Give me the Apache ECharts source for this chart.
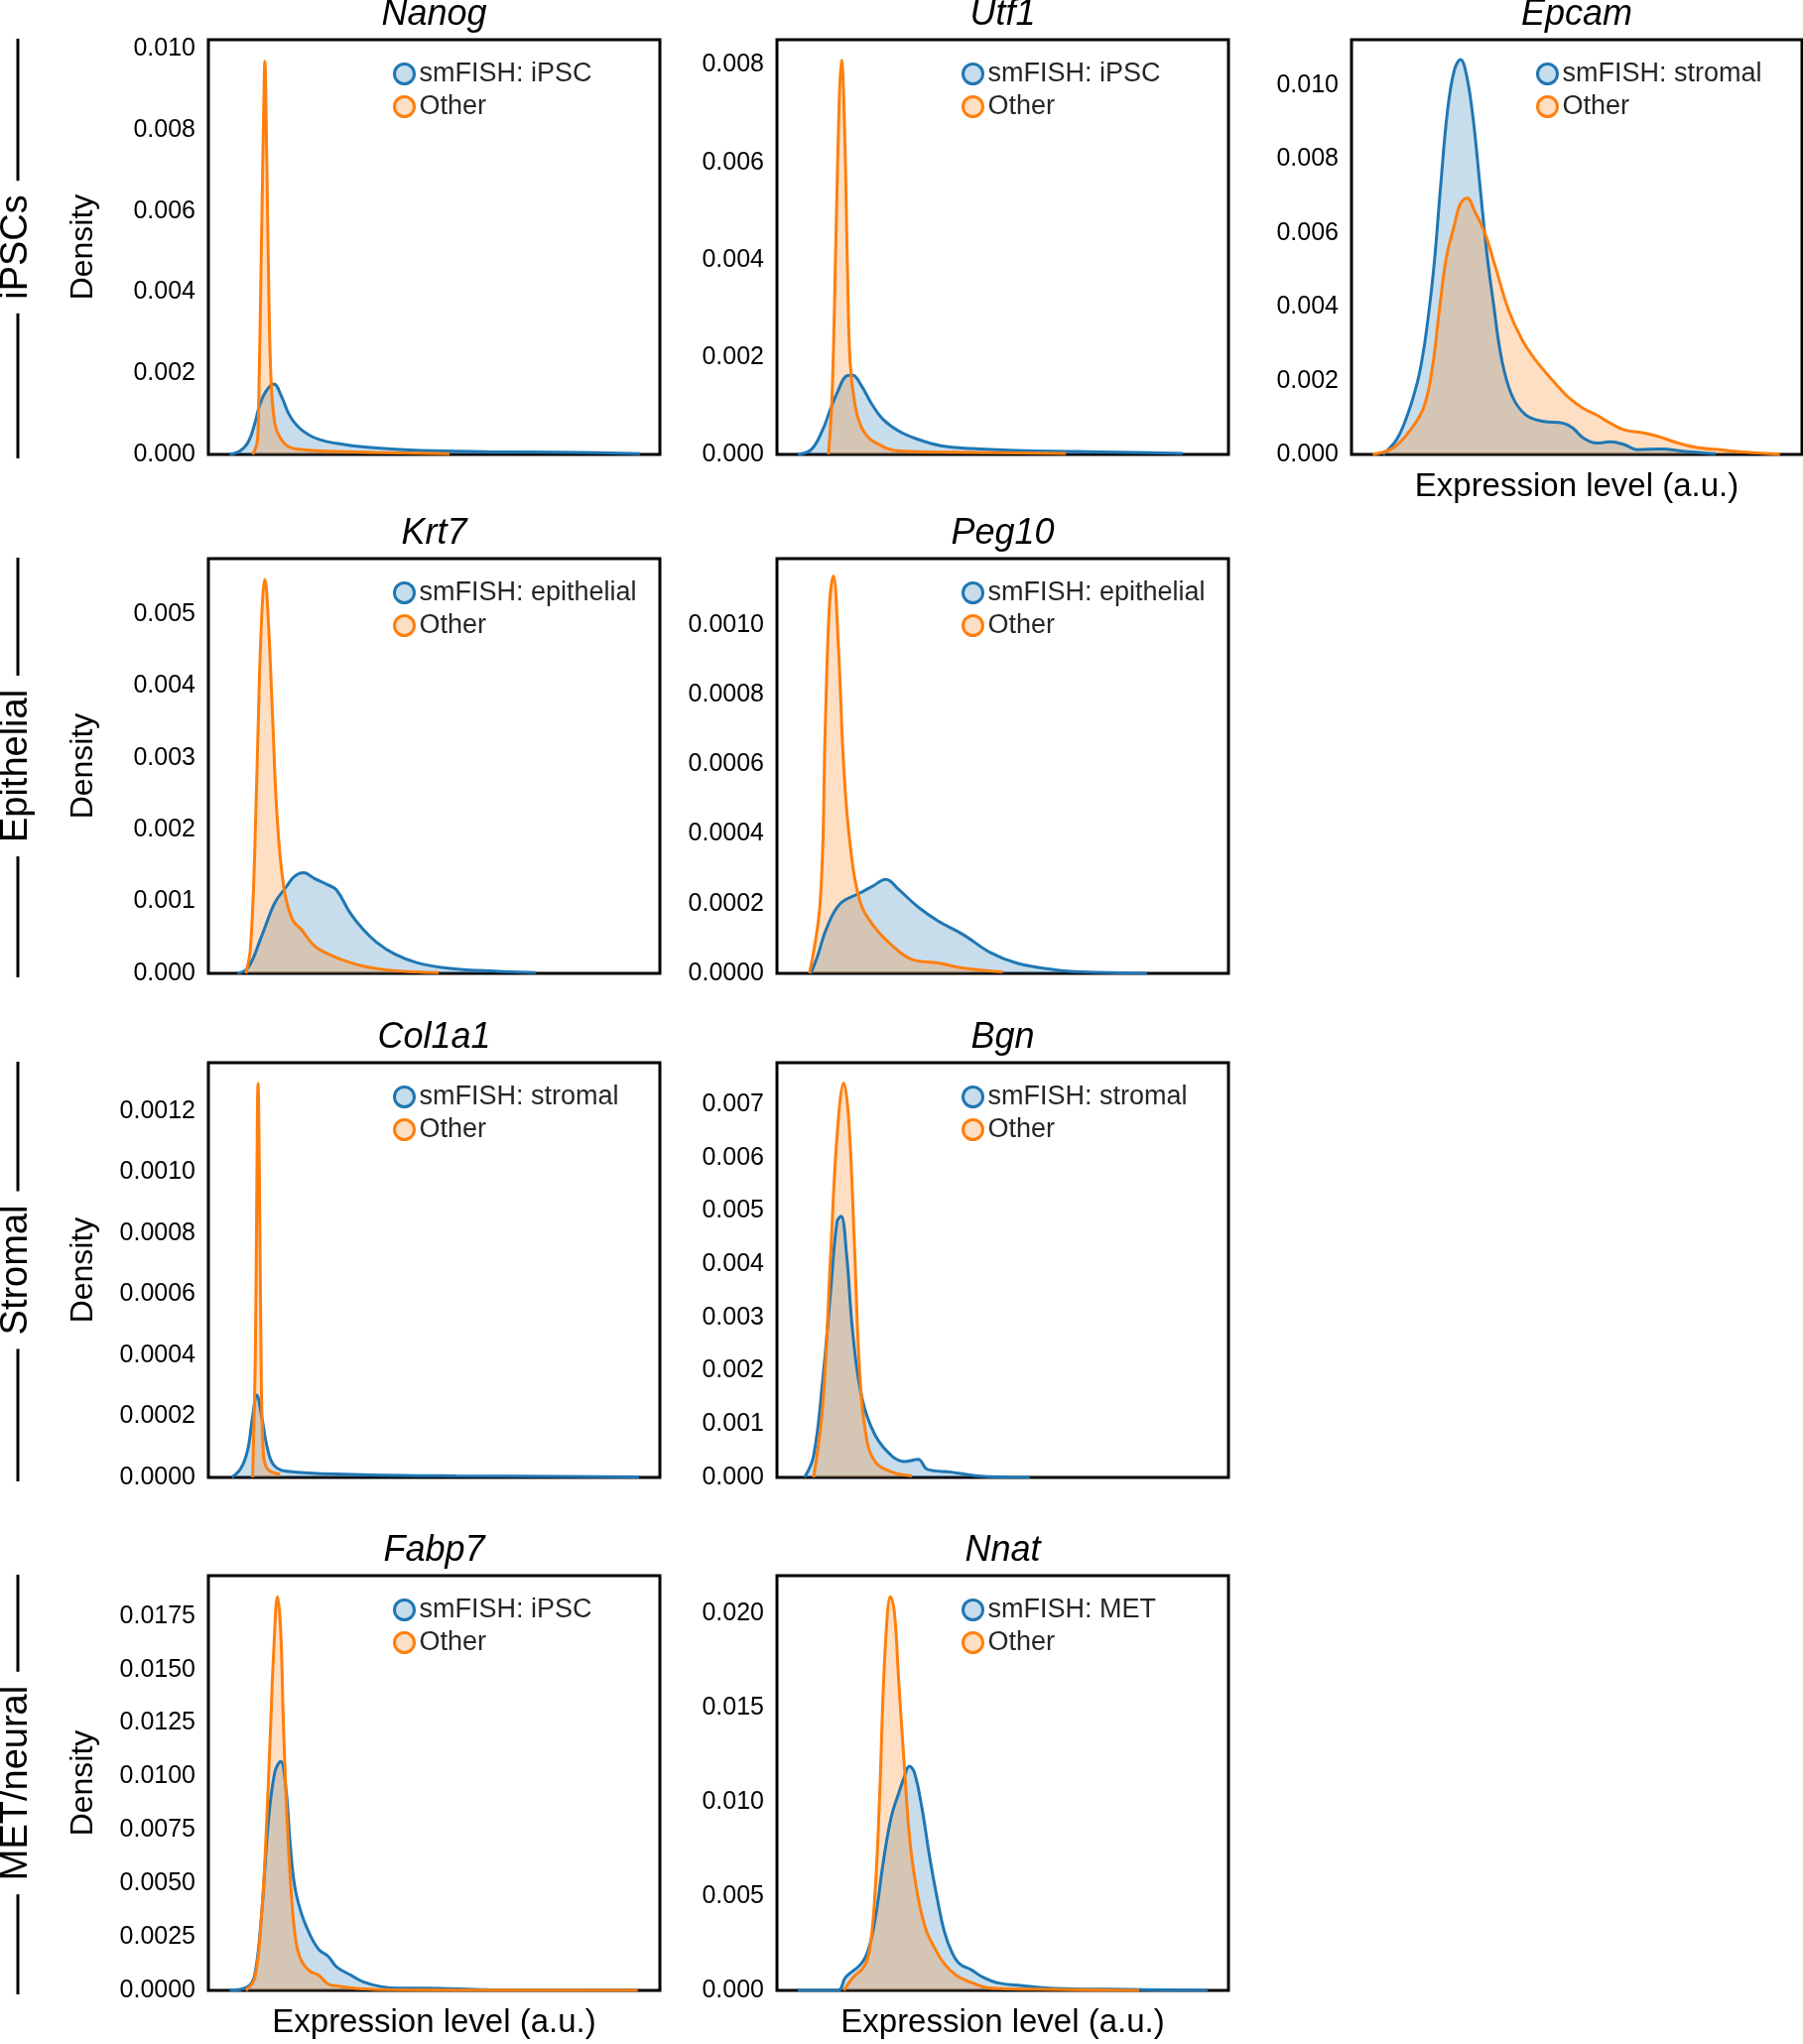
<!DOCTYPE html>
<html lang="en">
<head>
<meta charset="UTF-8">
<title>smFISH marker density</title>
<script src="https://cdn.jsdelivr.net/npm/echarts@6/dist/echarts.min.js"></script>
<style>
  html, body { margin: 0; padding: 0; background: #fff; }
  #chart { width: 1817px; height: 2060px; }
</style>
</head>
<body>
<div id="chart"></div>
<script>
  // panel meta
  var genes = ['Nanog', 'Utf1', 'Epcam', 'Krt7', 'Peg10', 'Col1a1', 'Bgn', 'Fabp7', 'Nnat'];
  var fishLabels = ['smFISH: iPSC', 'smFISH: iPSC', 'smFISH: stromal', 'smFISH: epithelial', 'smFISH: epithelial',
    'smFISH: stromal', 'smFISH: stromal', 'smFISH: iPSC', 'smFISH: MET'];
  var groups = ['iPSCs', 'Epithelial', 'Stromal', 'MET/neural'];
  var yMax = [0.01023, 0.00852, 0.01124, 0.00577, 0.00119, 0.001358, 0.00778, 0.01939, 0.02202];
  var yStep = [0.002, 0.002, 0.002, 0.001, 0.0002, 0.0002, 0.001, 0.0025, 0.005];
  var yDecimals = [3, 3, 3, 3, 4, 4, 3, 4, 3];

  // density curves, [expression (0-100 of axis), density]
  var nanogFish = [[4.7, 0], [6.9, 0.00008], [8.8, 0.0003], [10.3, 0.00077], [11.3, 0.0012], [12.7, 0.00155],
    [14.5, 0.00174], [16.2, 0.00143], [18.1, 0.00094], [20.6, 0.00061], [24.5, 0.00037], [30.4, 0.00024],
    [37.3, 0.00016], [47, 0.0001], [61.8, 0.00007], [81.4, 0.00005], [95.6, 0.00002]];
  var nanogOther = [[9.8, 0], [10.8, 0.0003], [11.1, 0.001], [11.8, 0.0055], [12.3, 0.0088], [12.5, 0.0097],
    [12.9, 0.0075], [13.4, 0.0039], [13.9, 0.0018], [14.7, 0.00077], [15.7, 0.00045], [17.6, 0.0002],
    [20.6, 0.00012], [26.5, 0.00008], [37, 0.00005], [53.4, 0.00002]];

  var utf1Fish = [[4.6, 0], [7.6, 0.0001], [10.1, 0.0005], [11.8, 0.00092], [13.5, 0.0013], [15.2, 0.0016],
    [16.7, 0.00163], [18.6, 0.00143], [21.1, 0.00102], [23.6, 0.00071], [27, 0.00048], [31.2, 0.00031],
    [36.3, 0.00018], [43, 0.00012], [53.2, 0.00008], [65.8, 0.00006], [78.5, 0.00004], [89.9, 0.00002]];
  var utf1Other = [[11.4, 0], [12.2, 0.0012], [13.1, 0.0046], [13.8, 0.0073], [14.3, 0.0081], [15.0, 0.0066],
    [15.6, 0.0039], [16.2, 0.0019], [17.3, 0.001], [18.6, 0.00058], [20.3, 0.00034], [21.9, 0.00024],
    [24.5, 0.00012], [27, 0.00007], [35.4, 0.00005], [64, 0.00002]];

  var epcamFish = [[7.0, 0], [10.0, 0.0004], [12.3, 0.00103], [14.5, 0.0019], [15.7, 0.0026], [16.8, 0.0035],
    [18.3, 0.0051], [19.8, 0.0073], [21.3, 0.0093], [22.8, 0.0104], [24.2, 0.0107], [25.5, 0.0103],
    [27.0, 0.0091], [28.5, 0.0073], [30.0, 0.0055], [31.5, 0.0041], [33.3, 0.0026], [35.6, 0.0016],
    [38.6, 0.00108], [42.4, 0.0009], [46.9, 0.00085], [49.1, 0.00072], [51.4, 0.00045], [54.5, 0.00031],
    [57.4, 0.00034], [60.5, 0.00027], [63.4, 0.00013], [68.8, 0.00015], [74, 0.00008], [80.8, 0.00002]];
  var epcamOther = [[4.7, 0], [9.3, 0.00018], [13.1, 0.00067], [16.1, 0.0013], [18, 0.0024], [19.4, 0.0038],
    [21, 0.0053], [22.8, 0.0062], [24.2, 0.0068], [25.7, 0.00695], [27.3, 0.0066], [29.6, 0.006],
    [31.9, 0.0051], [34.9, 0.0039], [37.9, 0.0031], [40.9, 0.00255], [44.7, 0.002], [48.4, 0.00152],
    [51.4, 0.00125], [54.4, 0.00107], [57.4, 0.00085], [60.5, 0.00067], [65, 0.00058], [68, 0.00049],
    [72.5, 0.00031], [77, 0.00018], [82.3, 0.00012], [87.6, 0.00006], [95.1, 0.00001]];

  var krt7Fish = [[6.4, 0], [8.8, 0.00008], [11.8, 0.00052], [14.7, 0.00098], [17.2, 0.0012], [19.1, 0.00135],
    [21.1, 0.0014], [23.5, 0.00132], [26.5, 0.00123], [28.4, 0.00116], [31.4, 0.00084], [34.3, 0.00061],
    [37.3, 0.00043], [41.2, 0.00027], [46.1, 0.00015], [52, 0.00008], [59.8, 0.00004], [72.5, 0.00001]];
  var krt7Other = [[8.3, 0], [9.3, 0.00034], [10.3, 0.00176], [11.3, 0.0041], [12.0, 0.0052], [12.5, 0.00548],
    [13.2, 0.005], [14.2, 0.0036], [15.2, 0.0022], [16.7, 0.0012], [18.6, 0.00075], [20.6, 0.00061],
    [23.5, 0.00038], [26.5, 0.00027], [30.4, 0.00017], [34.3, 0.0001], [39.2, 0.00005], [46.1, 0.00002],
    [51, 0.00001]];

  var peg10Fish = [[7.5, 0], [9, 0.00005], [11, 0.00013], [14, 0.0002], [18.3, 0.00023], [21.2, 0.00025],
    [24.1, 0.00027], [27, 0.00024], [31.3, 0.00019], [35.7, 0.00015], [41.4, 0.00011], [47.2, 0.00006],
    [53, 0.00003], [61.7, 0.00001], [67.5, 0.000004], [82, 0]];
  var peg10Other = [[7.2, 0], [9.6, 0.00021], [10.7, 0.00071], [11.6, 0.00105], [12.5, 0.00114], [13.6, 0.00094],
    [14.8, 0.00059], [16.2, 0.00037], [18.3, 0.00021], [21.2, 0.00014], [25.5, 0.00008], [29.9, 0.00004],
    [35.7, 0.00003], [41.4, 0.000015], [50, 0.000004]];

  var col1a1Fish = [[5.2, 0], [7.2, 0.00003], [8.7, 0.00009], [9.8, 0.0002], [10.7, 0.00027], [11.8, 0.0002],
    [13, 0.0001], [14.5, 0.00004], [17.3, 0.00002], [31.8, 0.00001], [55, 0.000005], [95.4, 0.000002]];
  var col1a1Other = [[9.8, 0], [10.4, 0.0004], [10.7, 0.0009], [11.0, 0.00129], [11.3, 0.001], [11.6, 0.0005],
    [12.1, 0.0001], [13, 0.00003], [15.9, 0.00001]];

  var bgnFish = [[6.1, 0], [8.1, 0.0004], [10.1, 0.0018], [11.9, 0.0035], [13.3, 0.0048], [14.2, 0.0049],
    [15.4, 0.0042], [16.8, 0.0027], [18.8, 0.0015], [21.7, 0.0008], [25.5, 0.0004], [28.4, 0.0003],
    [31.3, 0.00034], [33.3, 0.00015], [38.6, 0.0001], [44.3, 0.00003], [56, 0]];
  var bgnOther = [[8.1, 0], [10.1, 0.0013], [11.9, 0.0042], [13.3, 0.0064], [14.8, 0.0074], [15.9, 0.0067],
    [17.1, 0.0045], [18.3, 0.002], [19.7, 0.0008], [21.7, 0.0003], [25.5, 0.0001], [29.9, 0.00003]];

  var fabp7Fish = [[4.7, 0], [8.8, 0.00018], [10.3, 0.00076], [11.8, 0.0036], [13.2, 0.0077], [14.7, 0.0102],
    [16, 0.0107], [17.2, 0.0094], [18.1, 0.0069], [19.1, 0.0049], [20.6, 0.0036], [22.5, 0.0026],
    [24.5, 0.0019], [26.5, 0.0016], [28.4, 0.0011], [31.4, 0.00073], [34.3, 0.0004], [38.2, 0.00018],
    [42.2, 0.0001], [48, 0.0001], [61.8, 0.00003], [95.1, 0]];
  var fabp7Other = [[8.3, 0], [10.3, 0.0006], [11.8, 0.0036], [12.7, 0.0069], [13.7, 0.0119], [14.5, 0.016],
    [15.3, 0.0184], [16, 0.0169], [16.7, 0.0119], [17.5, 0.0077], [18.4, 0.0044], [19.4, 0.0023],
    [20.6, 0.0014], [22.5, 0.0009], [24.5, 0.0007], [26.5, 0.0003], [29.4, 0.00018], [32.4, 0.0001],
    [40.2, 0.00003], [95.1, 0]];

  var nnatFish = [[4.6, 0], [13.5, 0], [15.2, 0.0007], [18.6, 0.0014], [20.3, 0.0022], [21.9, 0.004],
    [23.6, 0.0069], [25.3, 0.0092], [27, 0.0105], [28.3, 0.0114], [29.3, 0.0119], [30.4, 0.0116],
    [32.1, 0.0097], [33.8, 0.0071], [35.4, 0.005], [37.1, 0.0031], [38.8, 0.002], [40.5, 0.0014],
    [43, 0.0011], [45.6, 0.0007], [48.9, 0.0004], [54, 0.00026], [61.6, 0.00011], [74.3, 0.00006], [95.4, 0]];
  var nnatOther = [[14.8, 0], [16.9, 0.0007], [19.4, 0.0013], [20.7, 0.0024], [21.9, 0.0059], [22.8, 0.0107],
    [23.6, 0.0163], [24.5, 0.0201], [25.1, 0.0209], [26, 0.0201], [27, 0.0163], [28.3, 0.0116],
    [29.5, 0.0078], [31.2, 0.005], [32.9, 0.0033], [34.6, 0.0024], [37.1, 0.0014], [39.7, 0.0008],
    [42.2, 0.0005], [45.6, 0.0002], [48.9, 0.0001], [57.4, 0.00006], [80.2, 0]];

  var fishCurves = [nanogFish, utf1Fish, epcamFish, krt7Fish, peg10Fish, col1a1Fish, bgnFish, fabp7Fish, nnatFish];
  var otherCurves = [nanogOther, utf1Other, epcamOther, krt7Other, peg10Other, col1a1Other, bgnOther, fabp7Other, nnatOther];

  var BLUE = '#1f77b4', ORANGE = '#ff7f0e';
  var BLUE_FILL = 'rgba(31,119,180,0.25)', ORANGE_FILL = 'rgba(255,127,14,0.25)';
  var FONT = '"Liberation Sans", Arial, Helvetica, sans-serif';

  // page layout (px)
  var colLeft = [210, 783, 1362], colWidth = [455, 455, 454];
  var rowTop = [40, 563, 1071, 1588], rowHeight = 418;
  var cells = [[0, 0], [0, 1], [0, 2], [1, 0], [1, 1], [2, 0], [2, 1], [3, 0], [3, 1]];
  var xLabelled = [2, 7, 8];

  var grids = [], xAxes = [], yAxes = [], series = [], legends = [], graphics = [];

  function curveSeries(name, pts, i, color, fill) {
    return {
      type: 'line', name: name, xAxisIndex: i, yAxisIndex: i, data: pts,
      symbol: 'none', showSymbol: false, smooth: 0.4, silent: true,
      lineStyle: { color: color, width: 3 }, itemStyle: { color: color },
      areaStyle: { color: fill, opacity: 1 }
    };
  }

  genes.forEach(function (gene, i) {
    var r = cells[i][0], c = cells[i][1];
    var left = colLeft[c], top = rowTop[r], width = colWidth[c];
    var step = yStep[i], dec = yDecimals[i];

    grids.push({ left: left, top: top, width: width, height: rowHeight, show: true,
      borderColor: '#000', borderWidth: 3, backgroundColor: 'transparent' });

    xAxes.push({
      gridIndex: i, type: 'value', min: 0, max: 100,
      axisLine: { show: false }, axisTick: { show: false }, axisLabel: { show: false }, splitLine: { show: false },
      name: xLabelled.indexOf(i) >= 0 ? 'Expression level (a.u.)' : '',
      nameLocation: 'middle', nameGap: 16,
      nameTextStyle: { fontSize: 33, fontFamily: FONT, color: '#000' }
    });

    yAxes.push({
      gridIndex: i, type: 'value', min: 0, max: yMax[i], interval: step,
      axisLine: { show: false }, axisTick: { show: false }, splitLine: { show: false },
      axisLabel: {
        margin: 13, fontSize: 25, fontFamily: FONT, color: '#000',
        formatter: function (v) {
          var k = v / step;
          return Math.abs(k - Math.round(k)) < 1e-6 ? v.toFixed(dec) : '';
        }
      },
      name: c === 0 ? 'Density' : '', nameLocation: 'middle', nameGap: 110,
      nameTextStyle: { fontSize: 32, fontFamily: FONT, color: '#000' }
    });

    series.push(curveSeries(fishLabels[i], fishCurves[i], i, BLUE, BLUE_FILL));
    series.push(curveSeries('Other', otherCurves[i], i, ORANGE, ORANGE_FILL));

    legends.push({
      left: left + 186, top: top + 21, orient: 'vertical', padding: 0,
      itemWidth: 20, itemHeight: 20, itemGap: 6, icon: 'circle', selectedMode: false,
      textStyle: { fontSize: 27, fontFamily: FONT, color: '#262626', lineHeight: 27 },
      data: [
        { name: fishLabels[i], itemStyle: { color: BLUE_FILL, borderColor: BLUE, borderWidth: 3 } },
        { name: 'Other', itemStyle: { color: ORANGE_FILL, borderColor: ORANGE, borderWidth: 3 } }
      ]
    });

    // gene name above each panel
    graphics.push({
      type: 'text', x: left + width / 2, y: top - 25, silent: true,
      style: { text: gene, font: 'italic 36px ' + FONT, fill: '#000',
        align: 'center', verticalAlign: 'middle', textAlign: 'center', textVerticalAlign: 'middle' }
    });
  });

  // row group labels with bars on the left
  var measure = document.createElement('canvas').getContext('2d');
  measure.font = '38px ' + FONT;
  groups.forEach(function (g, r) {
    var cy = rowTop[r] + rowHeight / 2;
    var half = measure.measureText(g).width / 2;
    graphics.push({
      type: 'text', x: 17, y: cy, rotation: Math.PI / 2, silent: true,
      style: { text: g, font: '38px ' + FONT, fill: '#000',
        align: 'center', verticalAlign: 'middle', textAlign: 'center', textVerticalAlign: 'middle' }
    });
    graphics.push({ type: 'line', silent: true,
      shape: { x1: 18, y1: rowTop[r] - 1, x2: 18, y2: cy - half - 14 },
      style: { stroke: '#000', lineWidth: 3 } });
    graphics.push({ type: 'line', silent: true,
      shape: { x1: 18, y1: cy + half + 14, x2: 18, y2: rowTop[r] + rowHeight + 4 },
      style: { stroke: '#000', lineWidth: 3 } });
  });

  var chart = echarts.init(document.getElementById('chart'), null, { renderer: 'canvas' });
  chart.setOption({
    animation: false,
    backgroundColor: '#fff',
    grid: grids,
    xAxis: xAxes,
    yAxis: yAxes,
    legend: legends,
    graphic: graphics,
    series: series
  });
</script>
</body>
</html>
